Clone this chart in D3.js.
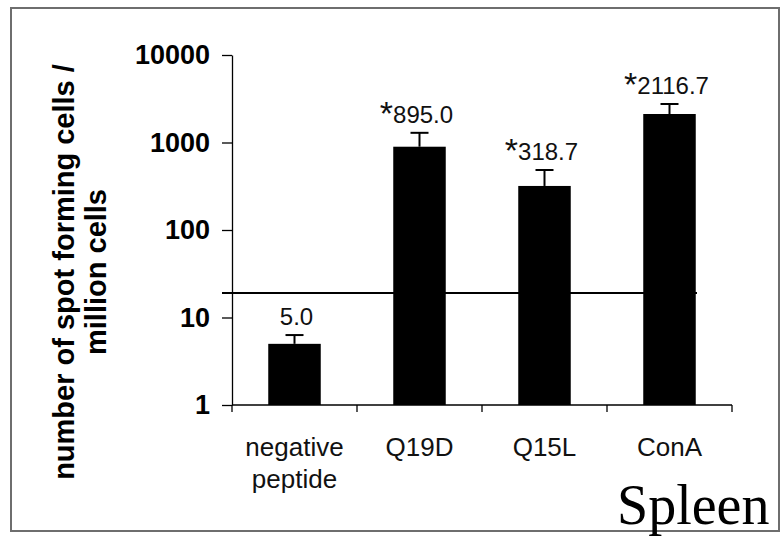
<!DOCTYPE html>
<html>
<head>
<meta charset="utf-8">
<script src="https://cdn.jsdelivr.net/npm/d3@7"></script>
<style>
  html, body { margin: 0; padding: 0; background: #fff; }
  svg { display: block; }
</style>
</head>
<body>
<svg id="chart" width="783" height="537"></svg>
<script>
// ---- data ----
const categories = [["negative", "peptide"], ["Q19D"], ["Q15L"], ["ConA"]];
const values = [5.0, 895.0, 318.7, 2116.7];
const errorUpper = [6.3, 1290, 485, 2755];
const valueLabels = ["5.0", "895.0", "318.7", "2116.7"];
const significant = [false, true, true, true];
const threshold = 19;
const yTicks = [1, 10, 100, 1000, 10000];
const yTitle = ["number of spot forming cells /", "million cells"];
const panelTitle = "Spleen";

(function () {
// ---- layout ----
const svg = d3.select("#chart");
const mLeft = 232, mRight = 732, mTop = 55, mBottom = 405;
const sans = "'Liberation Sans', Arial, Helvetica, sans-serif";

// frame
svg.append("rect")
  .attr("x", 11).attr("y", 8).attr("width", 768).attr("height", 523)
  .attr("fill", "none").attr("stroke", "#6e6e6e").attr("stroke-width", 2);

const x = d3.scaleBand().domain(d3.range(categories.length)).range([mLeft, mRight]).padding(0);
const y = d3.scaleLog().domain([1, 10000]).range([mBottom, mTop]);
const barW = x.bandwidth() * 0.42;

// y axis
const yAxis = d3.axisLeft(y).tickValues(yTicks).tickFormat(d3.format("d"))
  .tickSize(10).tickSizeOuter(0).tickPadding(12);
const gy = svg.append("g").attr("transform", `translate(${mLeft},0)`).call(yAxis);
gy.selectAll("path, line").attr("stroke", "#000").attr("stroke-width", 1.3);
gy.selectAll("text").attr("font-family", sans).attr("font-weight", "bold")
  .attr("font-size", 27).attr("fill", "#000");

// x axis line and boundary ticks
svg.append("line").attr("x1", mLeft).attr("x2", mRight).attr("y1", mBottom).attr("y2", mBottom)
  .attr("stroke", "#000").attr("stroke-width", 1.3);
const edges = d3.range(categories.length + 1).map(i => i < categories.length ? x(i) : x(i - 1) + x.bandwidth());
svg.selectAll(".xtick").data(edges).join("line")
  .attr("x1", d => d).attr("x2", d => d).attr("y1", mBottom).attr("y2", mBottom + 7)
  .attr("stroke", "#000").attr("stroke-width", 1.3);

// category labels
const cat = svg.selectAll(".cat").data(categories).join("text")
  .attr("font-family", sans).attr("font-size", 26).attr("fill", "#111")
  .attr("text-anchor", "middle");
cat.selectAll("tspan").data((d, i) => d.map(t => ({t, i}))).join("tspan")
  .attr("x", d => x(d.i) + x.bandwidth() / 2)
  .attr("y", (d, j) => 456 + j * 32)
  .text(d => d.t);

// bars
svg.selectAll(".bar").data(values).join("rect")
  .attr("x", (d, i) => x(i) + (x.bandwidth() - barW) / 2)
  .attr("width", barW)
  .attr("y", d => y(d))
  .attr("height", d => mBottom - y(d))
  .attr("fill", "#000");

// error bars
const eb = svg.selectAll(".eb").data(values).join("g");
eb.append("line")
  .attr("x1", (d, i) => x(i) + x.bandwidth() / 2).attr("x2", (d, i) => x(i) + x.bandwidth() / 2)
  .attr("y1", d => y(d)).attr("y2", (d, i) => y(errorUpper[i]))
  .attr("stroke", "#000").attr("stroke-width", 2);
eb.append("line")
  .attr("x1", (d, i) => x(i) + x.bandwidth() / 2 - 9).attr("x2", (d, i) => x(i) + x.bandwidth() / 2 + 9)
  .attr("y1", (d, i) => y(errorUpper[i])).attr("y2", (d, i) => y(errorUpper[i]))
  .attr("stroke", "#000").attr("stroke-width", 2);

// threshold line
svg.append("line").attr("x1", mLeft - 10).attr("x2", 697)
  .attr("y1", y(threshold)).attr("y2", y(threshold))
  .attr("stroke", "#000").attr("stroke-width", 2);

// value labels
const vl = svg.selectAll(".vl").data(values).join("text")
  .attr("font-family", sans).attr("font-size", 24).attr("fill", "#111")
  .attr("text-anchor", "middle")
  .attr("x", (d, i) => x(i) + x.bandwidth() / 2 + (significant[i] ? -3 : 2))
  .attr("y", (d, i) => y(errorUpper[i]) - 10);
vl.each(function(d, i) {
  const t = d3.select(this);
  if (significant[i]) t.append("tspan").attr("font-size", 34).attr("dy", 2).text("*");
  t.append("tspan").attr("dy", significant[i] ? -2 : 0).text(valueLabels[i]);
});

// y title
const yt = svg.append("text")
  .attr("transform", `translate(74,272) rotate(-90)`)
  .attr("font-family", sans).attr("font-weight", "bold").attr("font-size", 29)
  .attr("text-anchor", "middle").attr("fill", "#000");
yt.selectAll("tspan").data(yTitle).join("tspan")
  .attr("x", 0).attr("y", (d, i) => i * 32)
  .text(d => d);

// panel title
svg.append("text").attr("x", 617).attr("y", 524)
  .attr("font-family", "'Liberation Serif', 'Times New Roman', serif")
  .attr("font-size", 56).attr("fill", "#000").text(panelTitle);
})();
</script>
</body>
</html>
